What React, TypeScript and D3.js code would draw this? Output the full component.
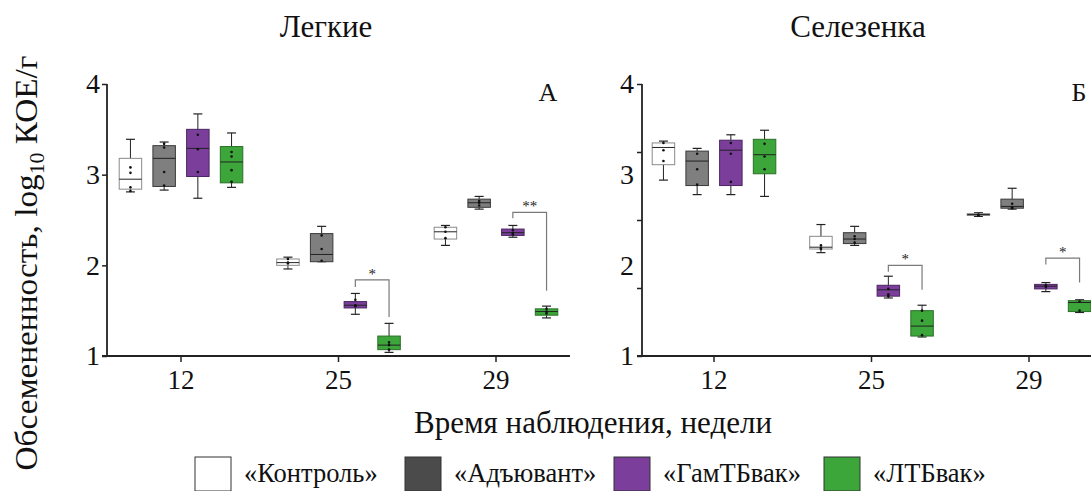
import React, { useEffect, useRef } from 'react';
import * as d3 from 'd3';

const weeks = ['12', '25', '29'];
const groups = ['«Контроль»', '«Адъювант»', '«ГамТБвак»', '«ЛТБвак»'];
const boxFill = ['#ffffff', '#7f7f7f', '#7b3f9b', '#3da63a'];
const boxStroke = ['#8a8a8a', '#3a3a3a', '#4b2560', '#2a6f27'];
const legendFill = ['#ffffff', '#4b4b4b', '#7b3f9b', '#3da63a'];

// [min, q1, median, q3, max] for each week -> each group
const lungBoxes = [
  [[2.81, 2.84, 2.95, 3.18, 3.39], [2.83, 2.87, 3.18, 3.32, 3.36], [2.74, 2.98, 3.29, 3.5, 3.67], [2.86, 2.91, 3.14, 3.31, 3.46]],
  [[1.96, 2.0, 2.03, 2.07, 2.09], [2.04, 2.04, 2.12, 2.35, 2.43], [1.46, 1.53, 1.56, 1.6, 1.69], [1.04, 1.07, 1.12, 1.22, 1.36]],
  [[2.22, 2.29, 2.37, 2.42, 2.44], [2.62, 2.64, 2.69, 2.73, 2.76], [2.31, 2.33, 2.36, 2.4, 2.44], [1.42, 1.45, 1.49, 1.52, 1.55]],
];
const spleenBoxes = [
  [[2.94, 3.11, 3.3, 3.35, 3.37], [2.78, 2.88, 3.15, 3.26, 3.29], [2.78, 2.88, 3.27, 3.38, 3.44], [2.76, 3.01, 3.22, 3.39, 3.49]],
  [[2.14, 2.18, 2.2, 2.32, 2.45], [2.22, 2.24, 2.29, 2.36, 2.43], [1.64, 1.66, 1.73, 1.78, 1.88], [1.21, 1.22, 1.33, 1.5, 1.56]],
  [[2.54, 2.55, 2.56, 2.57, 2.58], [2.62, 2.63, 2.65, 2.73, 2.85], [1.71, 1.74, 1.77, 1.79, 1.81], [1.48, 1.49, 1.59, 1.61, 1.62]],
];

// individual animals
const lungDots = [
  [[3.08, 3.02, 2.86, 2.82], [3.34, 3.3, 3.03, 2.88], [3.44, 3.28, 3.03], [3.25, 3.2, 3.05, 2.92]],
  [[2.07, 2.03, 2.02], [2.33, 2.18, 2.05], [1.62, 1.56, 1.55], [1.15, 1.12, 1.07]],
  [[2.42, 2.37, 2.3], [2.71, 2.69, 2.66], [2.39, 2.36, 2.34], [1.52, 1.49, 1.47]],
];
const spleenDots = [
  [[3.35, 3.27, 3.15], [3.23, 3.06, 2.89], [3.35, 3.23, 2.92], [3.34, 3.2, 3.06]],
  [[2.22, 2.19, 2.18], [2.32, 2.29, 2.25], [1.74, 1.68, 1.66], [1.5, 1.39, 1.23]],
  [[2.56, 2.55], [2.68, 2.64, 2.63], [1.78, 1.76], [1.6, 1.5]],
];

const lungSig = [
  { week: '25', a: 2, b: 3, top: 1.84, leftEnd: 1.76, rightEnd: 1.43, label: '*' },
  { week: '29', a: 2, b: 3, top: 2.585, leftEnd: 2.52, rightEnd: 1.72, label: '**' },
];
const spleenSig = [
  { week: '25', a: 2, b: 3, top: 2.0, leftEnd: 1.93, rightEnd: 1.73, label: '*' },
  { week: '29', a: 2, b: 3, top: 2.08, leftEnd: 2.01, rightEnd: 1.81, label: '*' },
];

const yLabels = [1, 2, 3, 4];
const spleenYTicks = [1, 1.75, 2.5, 3.25, 4];

const FONT = 'Liberation Serif, DejaVu Serif, serif';
const y = d3.scaleLinear().domain([1, 4]).range([356, 84]);
const sub = d3.scaleBand<string>().domain(groups).range([-61.8, 61.8]).paddingInner(0.333);

type Sig = { week: string; a: number; b: number; top: number; leftEnd: number; rightEnd: number; label: string };

function Panel(props: {
  bandStart: number; axisX: number; axisEnd: number; boxes: number[][][]; dots: number[][][];
  sig: Sig[]; title: string; titleX: number; letter: string; letterX: number; oddTicks: boolean;
}) {
  const { bandStart, axisX, axisEnd, boxes, dots, sig, title, titleX, letter, letterX, oddTicks } = props;
  const xRef = useRef<SVGGElement>(null);
  const yRef = useRef<SVGGElement>(null);
  const yLabRef = useRef<SVGGElement>(null);
  const x = d3.scaleBand<string>().domain(weeks).range([bandStart, bandStart + 472.5]);
  const bw = sub.bandwidth();

  useEffect(() => {
    const gx = d3.select(xRef.current!);
    gx.call(d3.axisBottom(x).tickSize(6).tickPadding(8));
    gx.select('.domain').remove();
    gx.selectAll('text').attr('font-size', 27).attr('font-family', FONT).attr('fill', '#111');
    gx.selectAll('line').attr('stroke', '#222').attr('stroke-width', 1.5);

    const gy = d3.select(yRef.current!);
    if (oddTicks) {
      gy.call(d3.axisLeft(y).tickValues(spleenYTicks).tickSize(5).tickFormat(() => ''));
      const gl = d3.select(yLabRef.current!);
      gl.call(d3.axisLeft(y).tickValues(yLabels).tickSize(0).tickPadding(8).tickFormat(d3.format('d')));
      gl.select('.domain').remove();
      gl.selectAll('text').attr('font-size', 28).attr('font-family', FONT).attr('fill', '#111');
    } else {
      gy.call(d3.axisLeft(y).tickValues(yLabels).tickSize(5).tickPadding(2).tickFormat(d3.format('d')));
    }
    gy.select('.domain').remove();
    gy.selectAll('text').attr('font-size', 28).attr('font-family', FONT).attr('fill', '#111');
    gy.selectAll('line').attr('stroke', '#222').attr('stroke-width', 1.5);
  }, []);

  return (
    <g>
      <text x={titleX} y={37} textAnchor="middle" fontSize={31} fontFamily={FONT} fill="#111">{title}</text>
      <text x={letterX} y={101} textAnchor="middle" fontSize={26} fontFamily={FONT} fill="#111">{letter}</text>
      {weeks.map((w, wi) =>
        groups.map((g, gi) => {
          const [mn, q1, md, q3, mx] = boxes[wi][gi];
          const cx = x(w)! + x.bandwidth() / 2 + sub(g)! + bw / 2;
          return (
            <g key={w + g}>
              <line x1={cx} x2={cx} y1={y(mx)} y2={y(mn)} stroke="#222" strokeWidth={1} />
              <line x1={cx - 4.5} x2={cx + 4.5} y1={y(mx)} y2={y(mx)} stroke="#222" strokeWidth={1.2} />
              <line x1={cx - 4.5} x2={cx + 4.5} y1={y(mn)} y2={y(mn)} stroke="#222" strokeWidth={1.2} />
              <rect x={cx - bw / 2} y={y(q3)} width={bw} height={Math.max(1, y(q1) - y(q3))}
                fill={boxFill[gi]} stroke={boxStroke[gi]} strokeWidth={1} />
              <line x1={cx - bw / 2} x2={cx + bw / 2} y1={y(md)} y2={y(md)} stroke="#222" strokeWidth={1} />
              {dots[wi][gi].map((v, k) => (
                <circle key={k} cx={cx} cy={y(v)} r={1.3} fill="#111" />
              ))}
            </g>
          );
        })
      )}
      {sig.map((s, i) => {
        const c = x(s.week)! + x.bandwidth() / 2;
        const xa = c + sub(groups[s.a])! + bw / 2;
        const xb = c + sub(groups[s.b])! + bw / 2;
        return (
          <g key={i}>
            <path d={`M${xa},${y(s.leftEnd)}V${y(s.top)}H${xb}V${y(s.rightEnd)}`} fill="none" stroke="#7a7a7a" strokeWidth={1.2} />
            <text x={(xa + xb) / 2} y={y(s.top) - 1} textAnchor="middle" fontSize={15} fontFamily={FONT} fill="#222">{s.label}</text>
          </g>
        );
      })}
      <line x1={axisX} x2={axisX} y1={84} y2={357} stroke="#222" strokeWidth={1.8} />
      <line x1={axisX - 5} x2={axisEnd} y1={356} y2={356} stroke="#222" strokeWidth={1.8} />
      <g ref={xRef} transform="translate(0,356)" />
      <g ref={yRef} transform={`translate(${axisX},0)`} />
      <g ref={yLabRef} transform={`translate(${axisX},0)`} />
    </g>
  );
}

export default function App() {
  const legendX = [195, 405, 614, 824];
  return (
    <svg width={1091} height={491} style={{ position: 'absolute', left: 0, top: 0, background: '#fff' }}>
      <Panel bandStart={102.25} axisX={107} axisEnd={570} boxes={lungBoxes} dots={lungDots} sig={lungSig}
        title="Легкие" titleX={326} letter="А" letterX={548} oddTicks={false} />
      <Panel bandStart={635.25} axisX={642} axisEnd={1091} boxes={spleenBoxes} dots={spleenDots} sig={spleenSig}
        title="Селезенка" titleX={858} letter="Б" letterX={1079} oddTicks={true} />
      <text transform="translate(37,263) rotate(-90)" textAnchor="middle" fontSize={32} fontFamily={FONT} fill="#111"
        textLength={415} lengthAdjust="spacingAndGlyphs">
        Обсемененность, log<tspan fontSize={21} dy={7}>10</tspan><tspan dy={-7}> КОЕ/г</tspan>
      </text>
      <text x={593} y={433} textAnchor="middle" fontSize={31} fontFamily={FONT} fill="#111">Время наблюдения, недели</text>
      {groups.map((g, i) => (
        <g key={g}>
          <rect x={legendX[i]} y={457} width={36} height={34} fill={legendFill[i]} stroke="#333" strokeWidth={1} />
          <text x={legendX[i] + 49} y={482} fontSize={26.5} fontFamily={FONT} fill="#111">{g}</text>
        </g>
      ))}
    </svg>
  );
}
